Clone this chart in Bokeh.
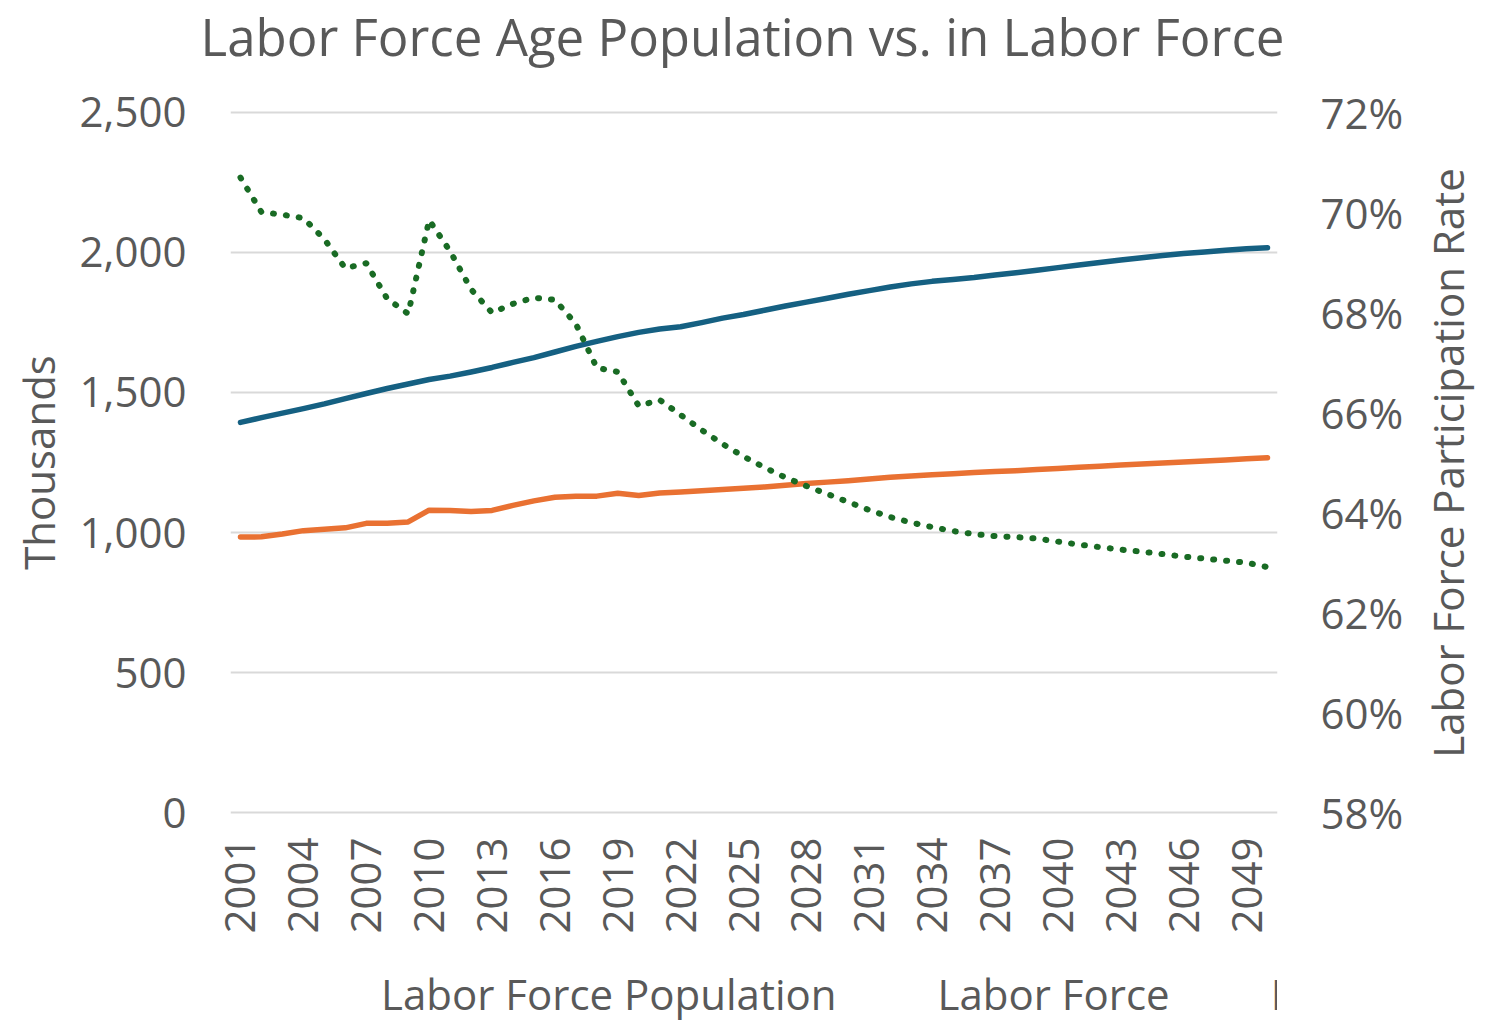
import math
from bokeh.plotting import figure
from bokeh.layouts import column
from bokeh.models import (Range1d, LinearAxis, FixedTicker, NumeralTickFormatter,
                          PrintfTickFormatter, Legend, LegendItem, Label)
from bokeh.embed import file_html
from bokeh.resources import INLINE

# ---------------- data ----------------
years = list(range(2001, 2051))

labor_force_population = [
    1393, 1410, 1426, 1442, 1459, 1478, 1496, 1514, 1530, 1546,
    1558, 1573, 1589, 1607, 1624, 1644, 1664, 1682, 1699, 1714,
    1726, 1734, 1749, 1765, 1778, 1793, 1808, 1822, 1836, 1850,
    1863, 1876, 1887, 1896, 1903, 1910, 1919, 1927, 1936, 1945,
    1954, 1963, 1972, 1980, 1988, 1995, 2001, 2007, 2012, 2016,
]

labor_force = [
    984, 985, 995, 1007, 1012, 1017, 1033, 1033, 1038, 1080,
    1079, 1075, 1079, 1097, 1113, 1126, 1130, 1130, 1140, 1132,
    1141, 1145, 1149, 1154, 1158, 1163, 1169, 1175, 1180, 1185,
    1191, 1197, 1202, 1206, 1210, 1214, 1218, 1221, 1225, 1229,
    1233, 1237, 1241, 1245, 1248, 1252, 1255, 1259, 1263, 1267,
]

participation_rates = [
    70.69, 70.00, 69.95, 69.88, 69.46, 68.88, 68.98, 68.27, 67.97, 69.84,
    69.22, 68.46, 67.99, 68.17, 68.29, 68.25, 67.77, 66.89, 66.81, 66.13,
    66.25, 65.95, 65.65, 65.37, 65.12, 64.90, 64.70, 64.53, 64.37, 64.21,
    64.05, 63.91, 63.80, 63.71, 63.63, 63.57, 63.53, 63.51, 63.48, 63.42,
    63.36, 63.31, 63.26, 63.22, 63.17, 63.12, 63.08, 63.04, 63.00, 62.91,
]

left_ticks = [0, 500, 1000, 1500, 2000, 2500]
right_ticks = [58, 60, 62, 64, 66, 68, 70, 72]
year_ticks = list(range(2001, 2050, 3))

series_names = ["Labor Force Population", "Labor Force", "Participation Rates"]
title_text = "Labor Force Age Population vs. in Labor Force"
left_title = "Thousands"
right_title = "Labor Force Participation Rate"

# ---------------- styling ----------------
FONT = "Open Sans"
TXT = "#595959"
BLUE = "#156082"
ORANGE = "#E97132"
GREEN = "#196B24"
GRID = "#D9D9D9"
COLORS = [BLUE, ORANGE, GREEN]
DASHES = ["solid", "solid", "1 12"]
WIDTHS = [5.5, 5.5, 6]

p = figure(frame_width=1047, frame_height=704,
           x_range=Range1d(2000.523, 2050.477), y_range=Range1d(-5.35, 2505.35),
           output_backend="svg", toolbar_location=None,
           min_border_left=230, min_border_right=205,
           min_border_top=110, min_border_bottom=130)
p.title = None
p.outline_line_color = None
p.background_fill_color = "white"
p.border_fill_color = "white"
p.extra_y_ranges = {"pct": Range1d(57.97, 72.03)}

# grid
p.xgrid.visible = False
p.ygrid.ticker = FixedTicker(ticks=left_ticks)
p.ygrid.grid_line_color = GRID
p.ygrid.grid_line_width = 2

# x axis
xa = p.xaxis[0]
xa.ticker = FixedTicker(ticks=year_ticks)
xa.major_label_orientation = math.pi / 2
xa.major_label_standoff = 17
xa.axis_line_color = None
xa.major_tick_line_color = None
xa.minor_tick_line_color = None
xa.major_label_text_font = FONT
xa.major_label_text_font_size = "42px"
xa.major_label_text_color = TXT

# left axis
ya = p.yaxis[0]
ya.ticker = FixedTicker(ticks=left_ticks)
ya.formatter = NumeralTickFormatter(format="0,0")
ya.major_label_standoff = 38
ya.axis_line_color = None
ya.major_tick_line_color = None
ya.minor_tick_line_color = None
ya.major_label_text_font = FONT
ya.major_label_text_font_size = "42px"
ya.major_label_text_color = TXT
ya.axis_label = left_title
ya.axis_label_text_font = FONT
ya.axis_label_text_font_size = "42px"
ya.axis_label_text_font_style = "normal"
ya.axis_label_text_color = TXT
ya.axis_label_standoff = 10

# right axis
ra = LinearAxis(y_range_name="pct", ticker=FixedTicker(ticks=right_ticks),
                formatter=PrintfTickFormatter(format="%d%%"))
ra.major_label_standoff = 37
ra.axis_line_color = None
ra.major_tick_line_color = None
ra.minor_tick_line_color = None
ra.major_label_text_font = FONT
ra.major_label_text_font_size = "42px"
ra.major_label_text_color = TXT
p.add_layout(ra, "right")

# right axis title (reads bottom to top)
p.add_layout(Label(x=41, y=351.5, x_units="screen", y_units="screen",
                   text=right_title, angle=math.pi / 2,
                   text_align="center", text_baseline="middle",
                   text_font=FONT, text_font_size="42px", text_color=TXT), "right")

# chart title
p.add_layout(Label(x=512, y=75, x_units="screen", y_units="screen",
                   text=title_text, text_align="center", text_baseline="middle",
                   text_font=FONT, text_font_size="51px", text_color=TXT), "above")

# lines
p.line(years, labor_force_population, line_color=BLUE, line_width=5.5,
       line_cap="round", line_join="round")
p.line(years, labor_force, line_color=ORANGE, line_width=5.5,
       line_cap="round", line_join="round")
p.line(years, participation_rates, y_range_name="pct", line_color=GREEN,
       line_width=6, line_dash="1 12", line_cap="round", line_join="round")

# ---------------- legend strip below the chart ----------------
q = figure(width=1482, height=79,
           x_range=Range1d(0, 1), y_range=Range1d(0, 1),
           output_backend="svg", toolbar_location=None,
           x_axis_location=None, y_axis_location=None, min_border=0)
q.title = None
q.outline_line_color = None
q.xgrid.visible = False
q.ygrid.visible = False
q.background_fill_color = "white"
q.border_fill_color = "white"

items = []
for name, col, dash, w in zip(series_names, COLORS, DASHES, WIDTHS):
    proxy = q.line(x=[], y=[], line_color=col, line_width=w, line_dash=dash,
                   line_cap="round", line_join="round")
    items.append(LegendItem(label=name, renderers=[proxy]))

legend = Legend(items=items, orientation="horizontal", location=(75, 1),
                glyph_width=73, glyph_height=20, label_standoff=3, spacing=25,
                padding=0, margin=0, border_line_alpha=0, background_fill_alpha=0,
                label_text_font=FONT, label_text_font_size="42px",
                label_text_color=TXT)
q.add_layout(legend)

layout = column(p, q, spacing=0)

open("out.html", "w").write(file_html(layout, INLINE))
